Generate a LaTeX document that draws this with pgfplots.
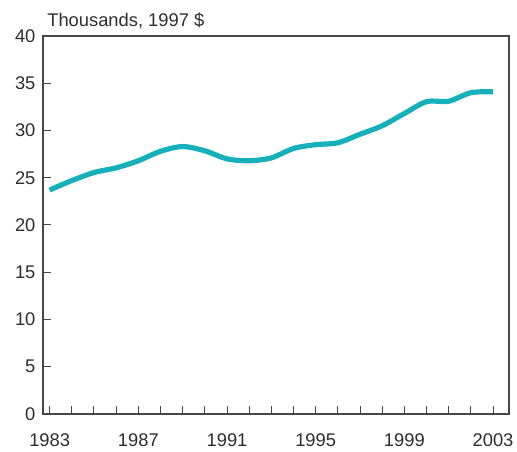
\documentclass[border=0pt]{standalone}
\usepackage{pgfplots}
\pgfplotsset{compat=1.18}
\usepackage{fontspec}
\setmainfont{Liberation Sans}
\definecolor{lineteal}{RGB}{22,176,186}
\definecolor{axisgray}{RGB}{70,70,70}
\definecolor{textgray}{RGB}{45,45,45}

\begin{document}
\begin{tikzpicture}
  % frame only
  \begin{axis}[
    width=279.6pt, height=226.8pt, scale only axis,
    xmin=1982.7, xmax=2003.72, ymin=0, ymax=40,
    xtick=\empty, ytick=\empty,
    axis line style={axisgray, line width=0.8pt},
  ]
  \end{axis}
  % ticks, labels and data
  \begin{axis}[
    width=279.6pt, height=226.8pt, scale only axis,
    xmin=1982.7, xmax=2003.72, ymin=0, ymax=40,
    axis x line*=bottom, axis y line*=left,
    xtick={1983,1987,1991,1995,1999,2003},
    xticklabels={1983,1987,1991,1995,1999,2003},
    minor xtick={1984,1985,1986,1988,1989,1990,1992,1993,1994,1996,1997,1998,2000,2001,2002},
    ytick={0,5,...,40},
    tick align=inside,
    major tick length=4.8pt, minor tick length=4.8pt,
    every tick/.style={axisgray, line width=0.6pt},
    axis line style={axisgray, line width=0.8pt},
    /pgf/number format/assume math mode=true,
    tick label style={font=\fontsize{11}{13}\selectfont, text=textgray},
    xticklabel style={inner sep=1pt, yshift=-10.4pt},
    yticklabel style={xshift=-1pt},
    clip=false,
  ]
    \addplot[lineteal, line width=3.1pt, smooth, tension=0.5] coordinates {
      (1983,23.7) (1984,24.7) (1985,25.55) (1986,26.05) (1987,26.8)
      (1988,27.8) (1989,28.3) (1990,27.85) (1991,27.0) (1992,26.8)
      (1993,27.1) (1994,28.1) (1995,28.5) (1996,28.7) (1997,29.6)
      (1998,30.5) (1999,31.8) (2000,33.05) (2001,33.1) (2002,34.0)
      (2003,34.1)};
    \node[anchor=base west, font=\fontsize{11}{13}\selectfont, text=textgray, inner sep=0pt]
      at ([shift={(2.4pt,5.4pt)}]rel axis cs:0,1) {Thousands, 1997 \$};
  \end{axis}
  \path ([shift={(-25.8pt,-22.8pt)}]current axis.south west)
    rectangle ([shift={(4.8pt,21.6pt)}]current axis.north east);
\end{tikzpicture}
\end{document}
